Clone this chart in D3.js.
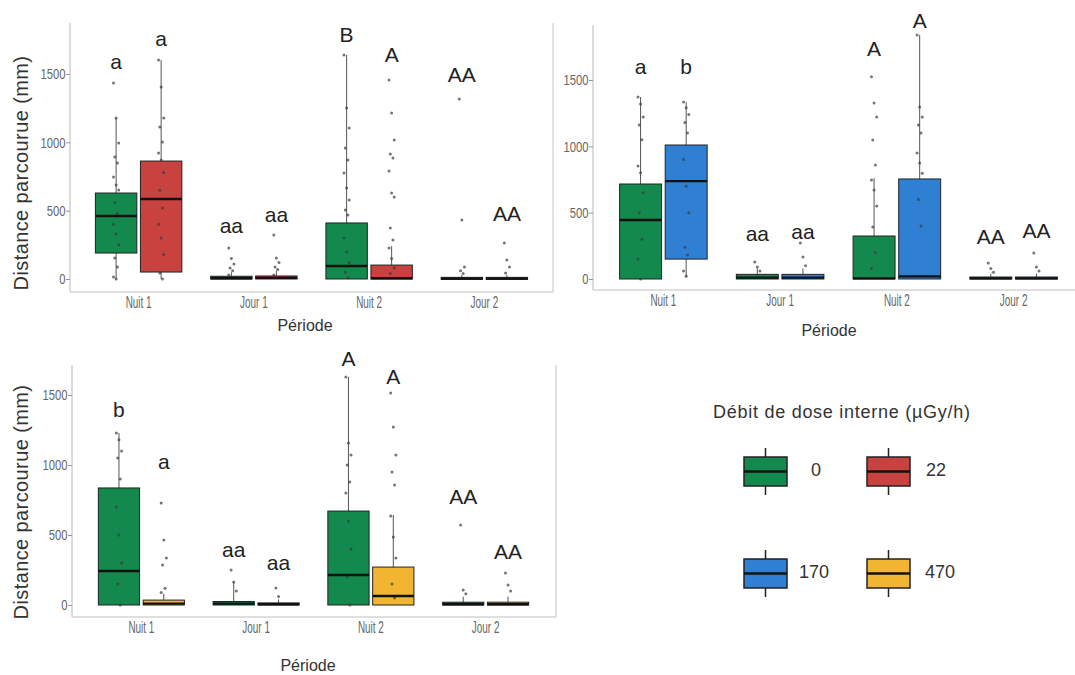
<!DOCTYPE html>
<html><head><meta charset="utf-8">
<script src="https://cdn.jsdelivr.net/npm/d3@7"></script>
<style>
html,body{margin:0;padding:0;background:#fff;}
svg{display:block;font-family:"Liberation Sans",Arial,sans-serif;}
</style></head>
<body>
<svg id="chart" width="1075" height="675"></svg>
<script>
// ---------- DATA ----------
const periods = ["Nuit 1","Jour 1","Nuit 2","Jour 2"];
const doseLevels = ["0","22","170","470"];
const doseColors = ["#14894d","#c8423f","#2f7fd2","#f1b532"];
const yTicks = [0,500,1000,1500];
const legendTitle = "Débit de dose interne (µGy/h)";
const xTitle = "Période";
const yTitle = "Distance parcourue (mm)";

// boxes: [period, dose, whiskerLow, q1, median, q3, whiskerHigh]
const boxesA = [
  ["Nuit 1","0",0,190,461,629,1178],["Nuit 1","22",0,51,585,863,1602],
  ["Jour 1","0",0,0,5,20,50],["Jour 1","22",0,0,8,22,60],
  ["Nuit 2","0",0,0,95,410,1639],["Nuit 2","22",0,0,5,102,240],
  ["Jour 2","0",0,0,3,12,30],["Jour 2","22",0,0,3,12,30]
];
const pointsA = [
  ["Nuit 1","0",[1434,1178,995,892,849,746,688,651,560,480,400,330,250,154,88,15,0]],
  ["Nuit 1","22",[1602,1405,1178,1112,1002,922,870,780,650,520,400,300,180,44,0]],
  ["Jour 1","0",[227,150,110,80,60,30]],
  ["Jour 1","22",[322,154,120,88,70,30]],
  ["Nuit 2","0",[1639,1251,1105,958,870,775,666,578,505,468,300,200,120,50,10]],
  ["Nuit 2","22",[1456,1214,1017,914,885,790,629,600,373,285,227,150,80,40]],
  ["Jour 2","0",[1317,432,88,60,40]],
  ["Jour 2","22",[263,139,88,44]]
];
const lettersA = [
  ["Nuit 1","0","a",1580],["Nuit 1","22","a",1748],
  ["Jour 1","0","aa",380],["Jour 1","22","aa",460],
  ["Nuit 2","0","B",1778],["Nuit 2","22","A",1631],
  ["Jour 2","0","AA",1485],["Jour 2","22","AA",468]
];

const boxesB = [
  ["Nuit 1","0",0,0,445,716,1372],["Nuit 1","170",15,150,738,1010,1334],
  ["Jour 1","0",0,0,10,35,80],["Jour 1","170",0,0,10,35,80],
  ["Nuit 2","0",0,0,5,324,760],["Nuit 2","170",0,0,20,754,1839],
  ["Jour 2","0",0,0,5,15,40],["Jour 2","170",0,0,5,15,40]
];
const pointsB = [
  ["Nuit 1","0",[1372,1320,1221,1160,1050,852,800,650,500,300,150,0]],
  ["Nuit 1","170",[1334,1290,1240,1180,1100,900,700,500,240,180,60,20]],
  ["Jour 1","0",[128,90,60]],
  ["Jour 1","170",[271,166,100]],
  ["Nuit 2","0",[1524,1326,1221,1047,859,746,671,550,392,200,80]],
  ["Nuit 2","170",[1839,1297,1221,1160,1100,950,874,798,600,400]],
  ["Jour 2","0",[120,80,50]],
  ["Jour 2","170",[196,90,60]]
];
const lettersB = [
  ["Nuit 1","0","a",1590],["Nuit 1","170","b",1590],
  ["Jour 1","0","aa",332],["Jour 1","170","aa",347],
  ["Nuit 2","0","A",1726],["Nuit 2","170","A",1937],
  ["Jour 2","0","AA",309],["Jour 2","170","AA",354]
];

const boxesC = [
  ["Nuit 1","0",0,0,243,836,1229],["Nuit 1","470",0,0,10,35,80],
  ["Jour 1","0",0,0,10,25,164],["Jour 1","470",0,0,5,15,40],
  ["Nuit 2","0",0,0,214,671,1629],["Nuit 2","470",0,0,64,271,643],
  ["Jour 2","0",0,0,5,20,60],["Jour 2","470",0,0,5,20,60]
];
const pointsC = [
  ["Nuit 1","0",[1229,1180,1100,1050,900,700,500,300,150,0]],
  ["Nuit 1","470",[729,464,336,286,120,90]],
  ["Jour 1","0",[250,164,100]],
  ["Jour 1","470",[121,60]],
  ["Nuit 2","0",[1629,1157,1071,1000,879,800,600,400,200,0]],
  ["Nuit 2","470",[1514,1271,1071,950,857,636,486,336,150,50]],
  ["Jour 2","0",[571,107,80]],
  ["Jour 2","470",[229,143,100]]
];
const lettersC = [
  ["Nuit 1","0","b",1379],["Nuit 1","470","a",1014],
  ["Jour 1","0","aa",386],["Jour 1","470","aa",293],
  ["Nuit 2","0","A",1750],["Nuit 2","470","A",1621],
  ["Jour 2","0","AA",764],["Jour 2","470","AA",371]
];

// ---------- LAYOUT ----------
const svg = d3.select("#chart");
const color = d3.scaleOrdinal().domain(doseLevels).range(doseColors);
const narrow = "'Liberation Sans Narrow','Liberation Sans',Arial,sans-serif";

const panels = [
  {doses:["0","22"], boxes:boxesA, points:pointsA, letters:lettersA,
   left:70, right:553, top:23, bottom:292, bandL:81, bandR:542, y0:279, y1500:74,
   rightBorder:true, ytitle:true, ytitleY:173, titleX:305, titleY:327},
  {doses:["0","170"], boxes:boxesB, points:pointsB, letters:lettersB,
   left:593, right:1075, top:25, bottom:290, bandL:605, bandR:1072, y0:279, y1500:80,
   rightBorder:false, ytitle:false, titleX:829, titleY:332},
  {doses:["0","470"], boxes:boxesC, points:pointsC, letters:lettersC,
   left:72, right:556, top:365, bottom:617, bandL:84, bandR:543, y0:605, y1500:395,
   rightBorder:true, ytitle:true, ytitleY:502, titleX:308, titleY:667}
];

panels.forEach(p => {
  const g = svg.append("g");
  const x = d3.scaleBand().domain(periods).range([p.bandL, p.bandR]).paddingInner(0.25).paddingOuter(0.125);
  const xs = d3.scaleBand().domain(p.doses).range([0, x.bandwidth()]).paddingInner(0.08);
  const y = d3.scaleLinear().domain([0,1500]).range([p.y0, p.y1500]);

  const lineCol = "#d4d4d4";
  g.append("line").attr("x1",p.left).attr("x2",p.left).attr("y1",p.top).attr("y2",p.bottom)
    .attr("stroke",lineCol).attr("stroke-width",1.6);
  g.append("line").attr("x1",p.left).attr("x2",p.right).attr("y1",p.bottom).attr("y2",p.bottom)
    .attr("stroke",lineCol).attr("stroke-width",1.6);
  if (p.rightBorder) {
    g.append("line").attr("x1",p.right).attr("x2",p.right).attr("y1",p.top).attr("y2",p.bottom)
      .attr("stroke",lineCol).attr("stroke-width",1.4);
  }

  const ya = g.append("g").attr("transform",`translate(${p.left},0)`)
    .call(d3.axisLeft(y).tickValues(yTicks).tickFormat(d3.format("d")).tickSize(4).tickPadding(2));
  ya.select(".domain").remove();
  ya.selectAll(".tick line").attr("stroke","#999");
  ya.selectAll(".tick text").attr("fill","#666").style("font-size","15px")
    .style("font-family",narrow).attr("transform","scale(0.75,1)");

  const xa = g.append("g").attr("transform",`translate(0,${p.bottom})`)
    .call(d3.axisBottom(x).tickSize(0).tickPadding(5));
  xa.select(".domain").remove();
  xa.selectAll(".tick text").attr("fill","#666").style("font-size","16px")
    .style("font-family",narrow).attr("transform","scale(0.62,1)");

  g.append("text").attr("x",p.titleX).attr("y",p.titleY).attr("text-anchor","middle")
    .attr("dominant-baseline","middle").attr("fill","#333").style("font-size","16px").text(xTitle);
  if (p.ytitle) {
    g.append("text").attr("transform",`translate(23,${p.ytitleY}) rotate(-90)`)
      .attr("text-anchor","middle").attr("dominant-baseline","middle").attr("fill","#333")
      .style("font-size","20px").style("letter-spacing","0.4px").text(yTitle);
  }

  const cx = (per,dose) => x(per) + xs(dose) + xs.bandwidth()/2;
  const bw = xs.bandwidth();

  g.selectAll(".wh").data(p.boxes).join("line")
    .attr("x1",d=>cx(d[0],d[1])).attr("x2",d=>cx(d[0],d[1]))
    .attr("y1",d=>y(d[2])).attr("y2",d=>y(d[6]))
    .attr("stroke","#555").attr("stroke-width",1);
  g.selectAll(".bx").data(p.boxes).join("rect")
    .attr("x",d=>cx(d[0],d[1])-bw/2).attr("width",bw)
    .attr("y",d=>y(d[5])).attr("height",d=>Math.max(2,y(d[3])-y(d[5])))
    .attr("fill",d=>color(d[1])).attr("stroke","#222").attr("stroke-width",1);
  p.points.forEach(pt => {
    const c = cx(pt[0],pt[1]);
    g.selectAll(null).data(pt[2]).join("circle")
      .attr("cx",(v,i)=>c + (((i*7)%5)-2)*1.3)
      .attr("cy",v=>y(v)).attr("r",1.5)
      .attr("fill","#3a3a3a").attr("fill-opacity",0.7);
  });
  g.selectAll(".md").data(p.boxes).join("line")
    .attr("x1",d=>cx(d[0],d[1])-bw/2).attr("x2",d=>cx(d[0],d[1])+bw/2)
    .attr("y1",d=>y(d[4])).attr("y2",d=>y(d[4]))
    .attr("stroke","#111").attr("stroke-width",2.4);
  g.selectAll(".lt").data(p.letters).join("text")
    .attr("x",d=>cx(d[0],d[1])).attr("y",d=>y(d[3]))
    .attr("text-anchor","middle").attr("dominant-baseline","middle")
    .attr("fill","#222").style("font-size","21px").text(d=>d[2]);
});

// ---------- LEGEND ----------
const lg = svg.append("g");
lg.append("text").attr("x",713).attr("y",413).attr("dominant-baseline","middle")
  .attr("fill","#333").style("font-size","18px").attr("textLength",257).text(legendTitle);
const legendPos = [
  {dose:"0", kx:744, ky:457, tx:811},
  {dose:"22", kx:867, ky:457, tx:926},
  {dose:"170", kx:744, ky:559, tx:799},
  {dose:"470", kx:867, ky:559, tx:925}
];
legendPos.forEach(l => {
  const kw = 43, kh = 29, mx = l.kx + kw/2;
  lg.append("line").attr("x1",mx).attr("x2",mx).attr("y1",l.ky-9).attr("y2",l.ky+kh+9)
    .attr("stroke","#222").attr("stroke-width",1.5);
  lg.append("rect").attr("x",l.kx).attr("y",l.ky).attr("width",kw).attr("height",kh)
    .attr("fill",color(l.dose)).attr("stroke","#222").attr("stroke-width",1.5);
  lg.append("line").attr("x1",l.kx).attr("x2",l.kx+kw).attr("y1",l.ky+kh/2).attr("y2",l.ky+kh/2)
    .attr("stroke","#111").attr("stroke-width",2.4);
  lg.append("text").attr("x",l.tx).attr("y",l.ky+kh/2).attr("dominant-baseline","middle")
    .attr("fill","#333").style("font-size","18px").text(l.dose);
});
</script>
</body></html>
